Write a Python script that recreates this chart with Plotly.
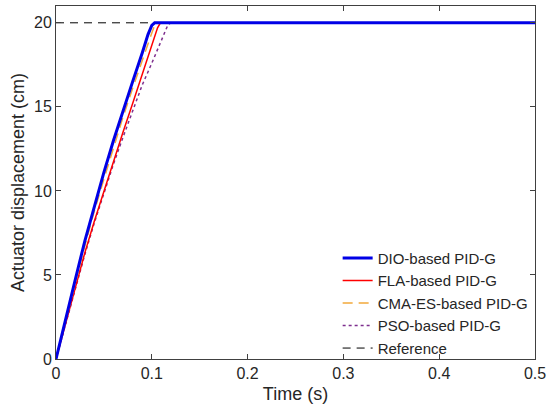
import plotly.graph_objects as go

# time samples (s) and actuator displacement (cm)
t_dio = [0, 0.01, 0.02, 0.03, 0.04, 0.05, 0.06, 0.07, 0.08, 0.09, 0.096, 0.1, 0.103, 0.5]
y_dio = [0, 2.4, 4.7, 7.0, 9.1, 11.1, 13.0, 14.8, 16.5, 18.2, 19.3, 19.85, 20.0, 20.0]

t_fla = [0, 0.01, 0.02, 0.03, 0.04, 0.05, 0.06, 0.07, 0.08, 0.09, 0.1, 0.106, 0.109, 0.5]
y_fla = [0, 2.1, 4.2, 6.3, 8.2, 10.0, 11.8, 13.5, 15.2, 16.9, 18.6, 19.7, 20.0, 20.0]

t_cma = [0, 0.01, 0.02, 0.03, 0.04, 0.05, 0.06, 0.07, 0.08, 0.09, 0.1, 0.103, 0.106, 0.5]
y_cma = [0, 2.3, 4.5, 6.7, 8.8, 10.7, 12.6, 14.4, 16.1, 17.8, 19.4, 19.85, 20.0, 20.0]

t_pso = [0, 0.01, 0.02, 0.03, 0.04, 0.05, 0.06, 0.07, 0.08, 0.09, 0.1, 0.11, 0.117, 0.12, 0.5]
y_pso = [0, 2.1, 4.2, 6.2, 8.1, 9.9, 11.6, 13.2, 14.8, 16.3, 17.6, 18.9, 19.9, 20.0, 20.0]

t_ref = [0, 0.5]
y_ref = [20, 20]

fig = go.Figure()
fig.add_trace(go.Scatter(x=t_ref, y=y_ref, name='Reference', mode='lines',
                         line=dict(color='black', width=1, dash='8px,6px'), showlegend=False))
fig.add_trace(go.Scatter(x=t_pso, y=y_pso, name='PSO-based PID-G', mode='lines',
                         line=dict(color='#7E2F8E', width=1.5, dash='dot'), showlegend=False))
fig.add_trace(go.Scatter(x=t_fla, y=y_fla, name='FLA-based PID-G', mode='lines',
                         line=dict(color='#FF0000', width=1.5), showlegend=False))
fig.add_trace(go.Scatter(x=t_cma, y=y_cma, name='CMA-ES-based PID-G', mode='lines',
                         line=dict(color='#F2A93B', width=1.5, dash='10px,6px'), showlegend=False))
fig.add_trace(go.Scatter(x=t_dio, y=y_dio, name='DIO-based PID-G', mode='lines',
                         line=dict(color='#0000E6', width=3), showlegend=False))

# legend entries in the original order (dummy traces)
legend = [
    ('DIO-based PID-G', dict(color='#0000E6', width=3)),
    ('FLA-based PID-G', dict(color='#FF0000', width=1.5)),
    ('CMA-ES-based PID-G', dict(color='#F2A93B', width=1.5, dash='10px,6px')),
    ('PSO-based PID-G', dict(color='#7E2F8E', width=1.5, dash='dot')),
    ('Reference', dict(color='black', width=1, dash='8px,6px')),
]
for name, ln in legend:
    fig.add_trace(go.Scatter(x=[None], y=[None], name=name, mode='lines', line=ln))

axis = dict(showline=True, linecolor='#404040', linewidth=1, mirror='ticks',
            ticks='inside', ticklen=5, tickcolor='#404040', showgrid=False, zeroline=False,
            automargin=False, tickfont=dict(size=16, color='#262626'))

fig.update_layout(
    width=550, height=416,
    margin=dict(l=56, r=15, t=6, b=57),
    plot_bgcolor='white', paper_bgcolor='white',
    font=dict(family='Liberation Sans, Arial, sans-serif', color='#262626'),
    xaxis=dict(range=[0, 0.5], tickvals=[0, 0.1, 0.2, 0.3, 0.4, 0.5],
               ticktext=['0', '0.1', '0.2', '0.3', '0.4', '0.5'],
               title=dict(text='Time (s)', font=dict(size=18), standoff=6), **axis),
    yaxis=dict(range=[0, 21], tickvals=[0, 5, 10, 15, 20],
               title=dict(text='Actuator displacement (cm)', font=dict(size=18), standoff=4), **axis),
    legend=dict(x=0.588, y=0.332, xanchor='left', yanchor='top',
                font=dict(size=15, color='#262626'), bgcolor='rgba(255,255,255,0)',
                tracegroupgap=0),
)

# page body has a default 8px margin; drop it so the figure sits at the corner
fig.write_html("out.html", config={'displayModeBar': False},
               post_script="document.body.style.margin='0';")
